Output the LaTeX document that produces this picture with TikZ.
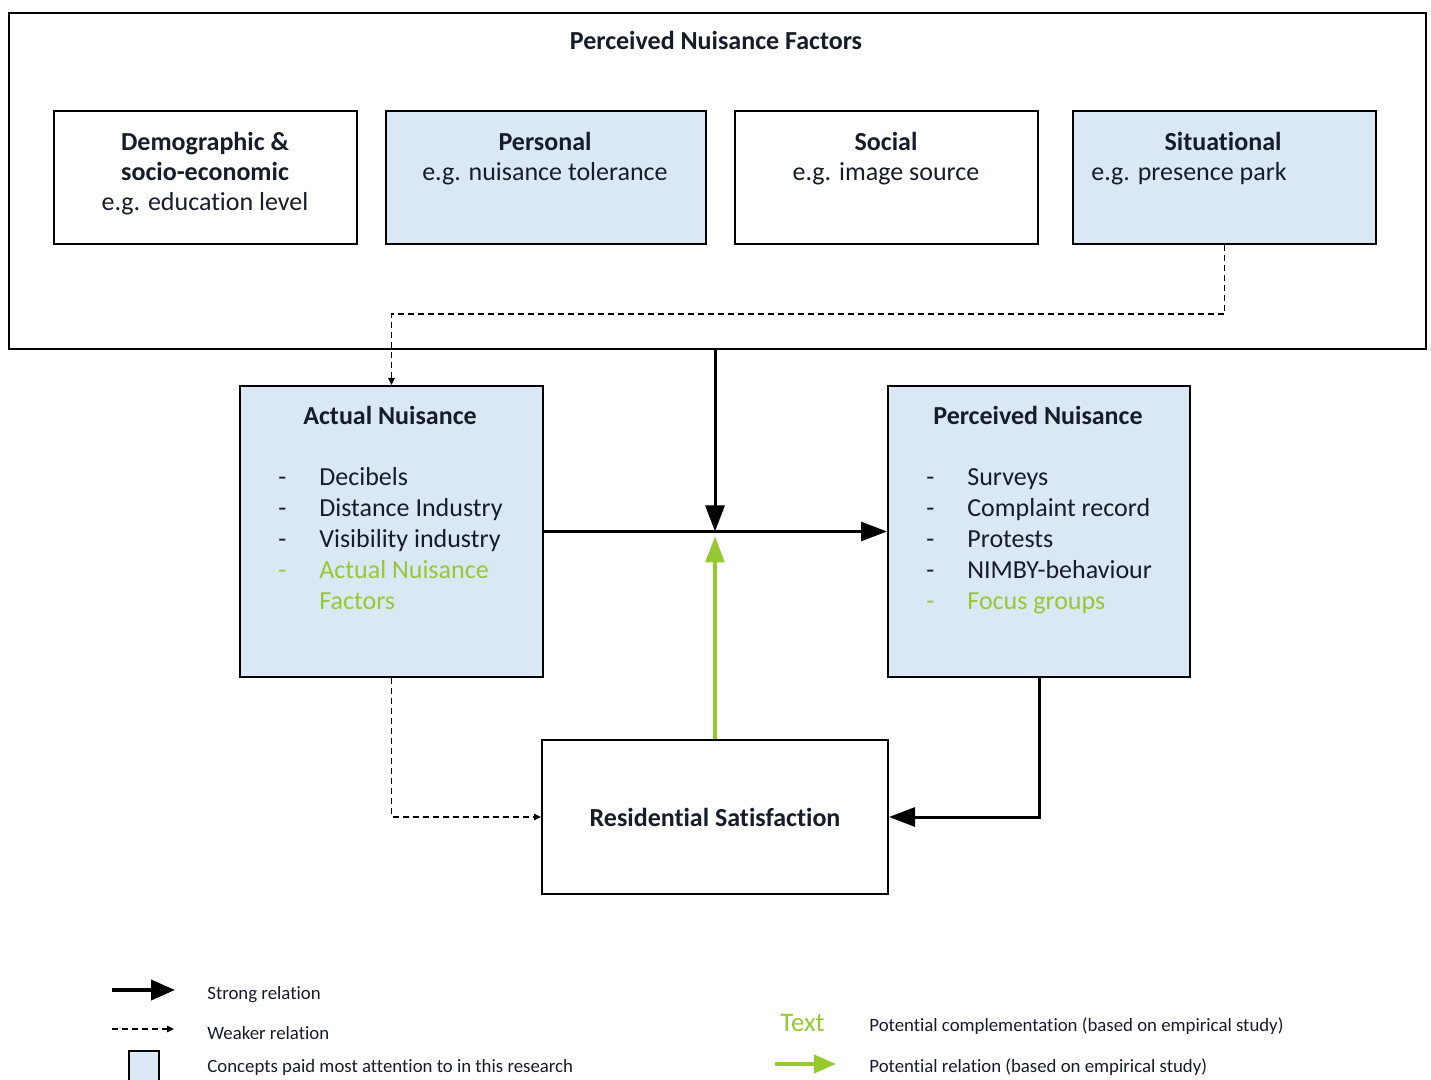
\documentclass[tikz,border=0pt]{standalone}
\usepackage{fontspec}
\setmainfont[RawFeature={-liga;-clig;-calt;-dlig}]{Carlito}
\usetikzlibrary{arrows.meta}

\definecolor{conceptblue}{RGB}{218,232,245}
\definecolor{empgreen}{RGB}{150,200,50}
\definecolor{ink}{RGB}{22,28,40}

\tikzset{
  frame/.style={draw=black, line width=1pt, inner sep=0pt, anchor=north west},
  concept/.style={frame, fill=conceptblue},
  plainbox/.style={frame, fill=white},
  strong/.style={line width=1.5pt, -{Triangle[length=13pt,width=9.5pt]}},
  weak/.style={line width=0.65pt, dash pattern=on 3pt off 2pt,
               -{Triangle[length=3.5pt,width=3.2pt]}},
  potential/.style={empgreen, line width=1.6pt, -{Triangle[length=13pt,width=9.5pt]}},
  heading/.style={font=\fontsize{13}{15}\selectfont\bfseries, text=ink, inner sep=0pt, anchor=base},
  body/.style={font=\fontsize{13}{15}\selectfont, text=ink, inner sep=0pt, anchor=base},
  listing/.style={font=\fontsize{13}{15.4}\selectfont, text=ink, inner sep=0pt, anchor=base west},
  legendtext/.style={font=\fontsize{9.4}{11}\selectfont, text=ink, inner sep=0pt, anchor=base west},
}

\newcommand{\boxlines}[1]{\begin{tabular}[t]{@{}c@{}}#1\end{tabular}}
\newcommand{\itemlist}[1]{\begin{tabular}[t]{@{}p{20.5pt}@{}l@{}}#1\end{tabular}}
\newcommand{\hl}[1]{\textcolor{empgreen}{#1}}

\begin{document}
\begin{tikzpicture}[x=0.5pt, y=-0.5pt]
  \useasboundingbox (0,0) rectangle (1431,1080);

  % --- factor group ---
  \node[plainbox, line width=1.2pt, minimum width=708.5pt, minimum height=168pt] (factors) at (8,12) {};
  \node[heading] (factorstitle) at (716,50) {Perceived Nuisance Factors};

  \node[plainbox, minimum width=151.5pt, minimum height=66.5pt] (demo) at (53,110) {};
  \node[concept,  minimum width=160pt,   minimum height=66.5pt] (personal) at (385,110) {};
  \node[plainbox, minimum width=151.5pt, minimum height=66.5pt] (social) at (734,110) {};
  \node[concept,  minimum width=151.5pt, minimum height=66.5pt] (situational) at (1072,110) {};

  \node[body] (demotext) at (205,150.5)
    {\boxlines{\bfseries Demographic \&\\
               \bfseries socio-economic\\
               e.g. education level}};
  \node[body] (personaltext) at (545,150.5)
    {\boxlines{\bfseries Personal\\ e.g. nuisance tolerance}};
  \node[body] (socialtext) at (886,150.5)
    {\boxlines{\bfseries Social\\ e.g. image source}};
  \node[body] (situationaltext) at (1223,150.5)
    {\boxlines{\bfseries Situational\\ e.g. presence park\kern34pt}};

  % --- nuisance concepts ---
  \node[concept, minimum width=151.5pt, minimum height=145.5pt] (actual) at (239,385) {};
  \node[concept, minimum width=151pt,   minimum height=145.5pt] (perceived) at (887,385) {};
  \node[plainbox, minimum width=173pt, minimum height=77pt,
        font=\fontsize{13}{15}\selectfont\bfseries, text=ink, anchor=north west]
        (residential) at (541,739) {Residential Satisfaction};

  \node[heading] (actualtitle) at (390,425) {Actual Nuisance};
  \node[heading] (perceivedtitle) at (1038,425) {Perceived Nuisance};

  \node[listing] (actuallist) at (278,486)
    {\itemlist{-& Decibels\\ -& Distance Industry\\ -& Visibility industry\\
               \hl{-}& \hl{Actual Nuisance}\\ & \hl{Factors}}};
  \node[listing] (perceivedlist) at (926,486)
    {\itemlist{-& Surveys\\ -& Complaint record\\ -& Protests\\
               -& NIMBY-behaviour\\ \hl{-}& \hl{Focus groups}}};

  % --- relations ---
  \coordinate (hub) at (residential.north |- actual.east);
  \draw[strong] (hub |- factors.south) -- (hub);
  \draw[strong] (actual.east) -- (perceived.west);
  \draw[potential] (residential.north) -- ([yshift=-2.5pt]hub);
  \draw[strong] (perceived.south) |- (residential.east);

  \coordinate (weakbend) at (actual.north |- 0,314);
  \draw[weak] (situational.south) |- (weakbend) -- (actual.north);
  \draw[weak] (actual.south) |- (residential.west);

  % --- legend ---
  \coordinate (strongA) at (112,990);
  \coordinate (strongB) at (175,990);
  \draw[strong, line width=2pt, -{Triangle[length=12pt,width=10pt]}] (strongA) -- (strongB);
  \node[legendtext] (strongtext) at (207,999) {Strong relation};

  \coordinate (weakA) at (112,1029);
  \coordinate (weakB) at (174,1029);
  \draw[weak] (weakA) -- (weakB);
  \node[legendtext] (weaktext) at (207,1039) {Weaker relation};

  \node[concept, minimum width=15pt, minimum height=15pt] (conceptkey) at (128,1050) {};
  \node[legendtext] (concepttext) at (207,1072) {Concepts paid most attention to in this research};

  \node[inner sep=0pt, anchor=base west, text=empgreen, font=\fontsize{13.4}{15}\selectfont]
       (greentext) at (780,1031) {Text};
  \node[legendtext] (complementtext) at (869,1031) {Potential complementation (based on empirical study)};

  \coordinate (greenA) at (775,1064);
  \coordinate (greenB) at (836,1064);
  \draw[potential, line width=2pt, -{Triangle[length=11pt,width=9pt]}] (greenA) -- (greenB);
  \node[legendtext] (potentialtext) at (869,1072) {Potential relation (based on empirical study)};
\end{tikzpicture}
\end{document}
